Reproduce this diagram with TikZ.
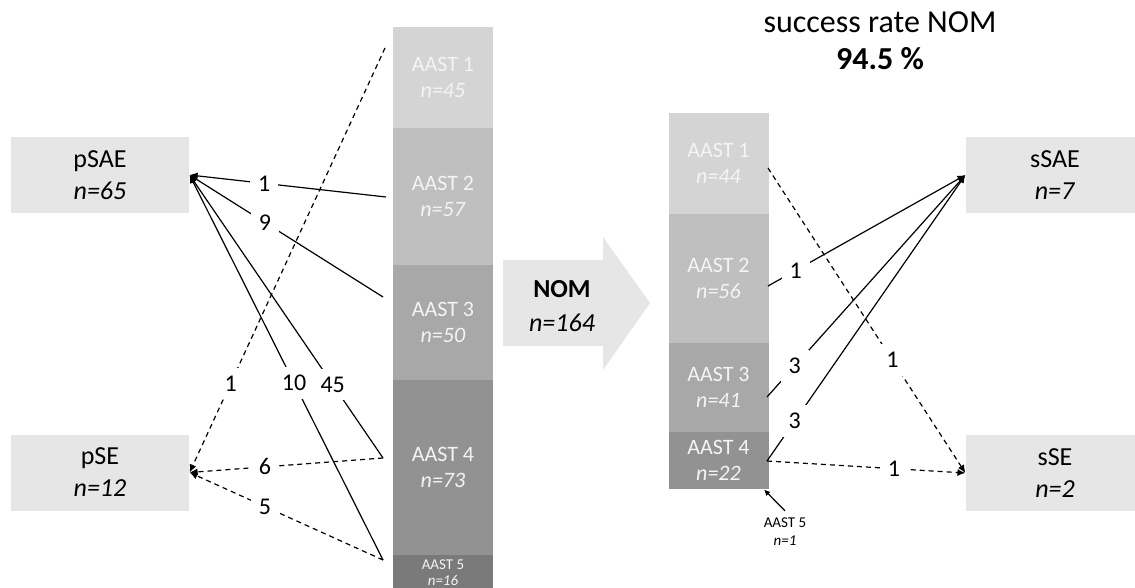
\documentclass[tikz,border=0pt]{standalone}
\usepackage{fontspec}
\setmainfont{Carlito}
\usetikzlibrary{arrows.meta}
\definecolor{boxgray}{HTML}{E6E6E6}
\definecolor{g1}{HTML}{D4D4D4}
\definecolor{g2}{HTML}{BFBFBF}
\definecolor{g3}{HTML}{A8A8A8}
\definecolor{g4}{HTML}{929292}
\definecolor{g5}{HTML}{7A7A7A}
\definecolor{segtext}{HTML}{F4F4F4}
\begin{document}
\begin{tikzpicture}[x=0.5pt,y=-0.5pt,line width=0.6pt,
    >={Latex[length=4pt,width=3.5pt]},
    cat/.style={fill=boxgray,minimum width=89pt,minimum height=38pt,align=center,font=\fontsize{13}{16}\selectfont},
    seg/.style={minimum width=50pt,inner sep=0pt,align=center,text=segtext,font=\fontsize{11}{13}\selectfont},
    lab/.style={fill=white,inner sep=4pt,font=\fontsize{12}{14}\selectfont},
    flow/.style={->},
    dflow/.style={->,dash pattern=on 2.5pt off 2pt}]
    \useasboundingbox (0,0) rectangle (1135,588);
    % before NOM
    \node[seg,fill=g1,minimum height=50.5pt] (a1) at (443,77.5) {AAST 1\\\textit{n=45}};
    \node[seg,fill=g2,minimum height=68.5pt] (a2) at (443,196.5) {AAST 2\\\textit{n=57}};
    \node[seg,fill=g3,minimum height=57.5pt] (a3) at (443,322.5) {AAST 3\\\textit{n=50}};
    \node[seg,fill=g4,minimum height=87.5pt] (a4) at (443,467.5) {AAST 4\\\textit{n=73}};
    \node[seg,fill=g5,minimum height=18pt,anchor=north,font=\fontsize{7.5}{8}\selectfont] (a5) at (443,554) {AAST 5\\\textit{n=16}};
    % after NOM
    \node[seg,fill=g1,minimum height=50.5pt] (b1) at (718.5,163.5) {AAST 1\\\textit{n=44}};
    \node[seg,fill=g2,minimum height=64.5pt] (b2) at (718.5,278.5) {AAST 2\\\textit{n=56}};
    \node[seg,fill=g3,minimum height=44.5pt] (b3) at (718.5,387.5) {AAST 3\\\textit{n=41}};
    \node[seg,fill=g4,minimum height=28.5pt] (b4) at (718.5,460.5) {AAST 4\\\textit{n=22}};
    \node[font=\fontsize{7.5}{9}\selectfont,align=center] (b5) at (785,532) {AAST 5\\\textit{n=1}};
    % outcomes
    \node[cat] (psae) at (100,175) {pSAE\\\textit{n=65}};
    \node[cat] (pse) at (100,472.5) {pSE\\\textit{n=12}};
    \node[cat] (ssae) at (1055,175) {sSAE\\\textit{n=7}};
    \node[cat] (sse) at (1055,473) {sSE\\\textit{n=2}};
    % NOM arrow
    \fill[boxgray] (503,260) -- (603,260) -- (603,237) -- (650,303) -- (603,370) -- (603,346) -- (503,346) -- cycle;
    \node[font=\fontsize{13}{17}\selectfont,align=center] (nom) at (562,306) {\textbf{NOM}\\\textit{n=164}};
    \node[font=\fontsize{16}{18.5}\selectfont,align=center] (rate) at (880,41) {success rate NOM\\\textbf{94.5 \%}};
    % line ends at the bars
    \coordinate (pa1) at (385,48);
    \coordinate (pa2) at (386,197);
    \coordinate (pa3) at (383,297);
    \coordinate (pa4) at (383,458);
    \coordinate (pa5) at (383,560);
    \coordinate (sb1) at (768,168);
    \coordinate (sb2) at (768,286);
    \coordinate (sb3) at (767,397);
    \coordinate (sb4) at (767,461);
    \path
    (pa2) edge[flow] node[lab,pos=0.62] {1} (psae.east)
    (pa3) edge[flow] node[lab,pos=0.61] {9} (psae.east)
    (pa4) edge[flow] node[lab,pos=0.26] {45} (psae.east)
    (pa5) edge[flow] node[lab,pos=0.46] {10} (psae.east)
    (pa1) edge[dflow] node[lab,pos=0.79] {1} (pse.east)
    (pa4) edge[dflow] node[lab,pos=0.61] {6} (pse.east)
    (pa5) edge[dflow] node[lab,pos=0.61] {5} (pse.east)
    (sb2) edge[flow] node[lab,pos=0.14] {1} (ssae.west)
    (sb3) edge[flow] node[lab,pos=0.14] {3} (ssae.west)
    (sb4) edge[flow] node[lab,pos=0.14] {3} (ssae.west)
    (sb1) edge[dflow] node[lab,pos=0.63] {1} (sse.west)
    (sb4) edge[dflow] node[lab,pos=0.64] {1} (sse.west)
    (b5.north) edge[flow,>={Latex[length=3pt,width=3pt]}] ([xshift=-2.5pt]b4.south east);
\end{tikzpicture}
\end{document}
